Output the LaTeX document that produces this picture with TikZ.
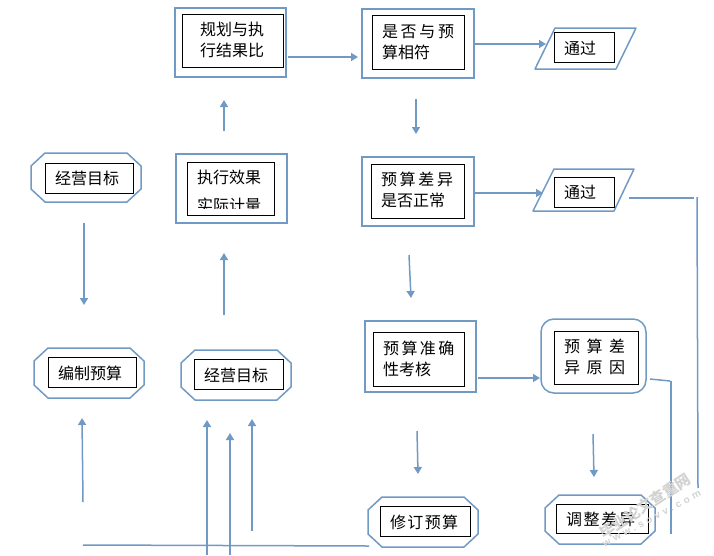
\documentclass[tikz,border=0pt]{standalone}
\usepackage{fontspec}
\setmainfont{Noto Sans CJK SC}
\newfontfamily\latinwm[LetterSpace=35]{Liberation Sans}
\usetikzlibrary{arrows.meta}
\definecolor{flowblue}{HTML}{7099C4}
\tikzset{
  x=1pt,y=-1pt,
  every node/.style={inner sep=0pt,outer sep=0pt},
  outerbox/.style={draw=flowblue,line width=2pt},
  outerthin/.style={draw=flowblue,line width=1.5pt,line join=round},
  innerbox/.style={draw=black,line width=0.75pt},
  lbl/.style={anchor=west,align=left,yshift=-0.3pt,font=\fontsize{16}{21}\selectfont,text=black},
  conn/.style={draw=flowblue,line width=1.5pt},
  arr/.style={conn,-{Triangle[length=7pt,width=8pt]}},
  wm/.style={text=gray!35,rotate=33,font=\bfseries\fontsize{15}{15}\selectfont}
}
\newcommand{\octa}[5]{% name, x1, y1, x2, y2
  \draw[outerthin] (#2+14,#3) -- (#4-14,#3) -- (#4,#3+13) -- (#4,#5-13) -- (#4-14,#5) -- (#2+14,#5) -- (#2,#5-13) -- (#2,#3+13) -- cycle;
  \coordinate (#1) at ({(#2+#4)/2},{(#3+#5)/2});
}
\newcommand{\ibox}[5]{% name, x1, y1, x2, y2
  \node[innerbox,minimum width=#4-#2,minimum height=#5-#3] (#1) at ({(#2+#4)/2},{(#3+#5)/2}) {};
}
\newcommand{\obox}[5]{%
  \node[outerbox,minimum width=#4-#2,minimum height=#5-#3] (#1) at ({(#2+#4)/2},{(#3+#5)/2}) {};
}
\begin{document}
\begin{tikzpicture}
\useasboundingbox (0,0) rectangle (714,555);
% double boxes
\obox{oplan}{175}{8}{286}{77}
\ibox{iplan}{182}{14}{283}{67}
\node[lbl] (tplan) at (200,39.5) {规划与执\\行结果比};
\obox{oexec}{176}{154}{287}{223}
\ibox{iexec}{187}{162}{274}{215}
\node[lbl] (texec) at (197,177) {执行效果};
\begin{scope}
\clip (187,162) rectangle (274,208.5);
\node[lbl] (tmeas) at (197,205) {实际计量};
\end{scope}
\obox{omatch}{362}{9}{474}{78}
\ibox{imatch}{372}{15}{464}{69}
\node[lbl] (tmatch) at (382,41.5) {是\hspace{2.7pt}否\hspace{2.7pt}与\hspace{2.7pt}预\\算相符};
\obox{ovar}{362}{157}{474}{226}
\ibox{ivar}{371}{164}{464}{218}
\node[lbl] (tvar) at (381,190) {预\hspace{2.7pt}算\hspace{2.7pt}差\hspace{2.7pt}异\\是否正常};
\obox{oacc}{365}{321}{476}{392}
\ibox{iacc}{373}{332}{464}{386}
\node[lbl] (tacc) at (383,358.5) {预\hspace{2.5pt}算\hspace{2.5pt}准\hspace{2.5pt}确\\性考核};
% rounded
\node[draw=flowblue,line width=1.5pt,rounded corners=13pt,minimum width=105pt,minimum height=74pt] (orea) at (593.5,356) {};
\ibox{irea}{554}{331}{638}{384}
\node[lbl] (trea) at (564,357) {预\hspace{6.5pt}算\hspace{6.5pt}差\\异\hspace{6.5pt}原\hspace{6.5pt}因};
% octagons
\octa{ogoalA}{31}{153}{141}{202}
\ibox{igoalA}{45}{163}{133}{193}
\node[lbl] (tgoalA) at (55,178) {经营目标};
\octa{obud}{34}{348}{144}{398}
\ibox{ibud}{48}{357}{136}{387}
\node[lbl] (tbud) at (58,373) {编制预算};
\octa{ogoalB}{181}{350}{291}{400}
\ibox{igoalB}{194}{359}{283}{389}
\node[lbl] (tgoalB) at (204,375) {经营目标};
\octa{orev}{368}{497}{478}{547}
\ibox{irev}{380}{506}{470}{536}
\node[lbl] (trev) at (390,522) {修\hspace{1.4pt}订\hspace{1.4pt}预\hspace{1.4pt}算};
\octa{oadj}{545}{495}{655}{544}
\ibox{iadj}{556}{504}{648}{533}
\node[lbl] (tadj) at (566,519) {调\hspace{1.7pt}整\hspace{1.7pt}差\hspace{1.7pt}异};
% parallelograms
\draw[outerthin] (535,69) -- (555,28) -- (636,28) -- (616,69) -- cycle;
\ibox{ipassA}{554}{32}{614}{62}
\node[lbl] (tpassA) at (564,48) {通过};
\draw[outerthin] (533,211) -- (554,169) -- (634,169) -- (614,211) -- cycle;
\ibox{ipassB}{554}{177}{614}{207}
\node[lbl] (tpassB) at (564,192) {通过};
% free connector ends
\foreach \n/\x/\y in {a/288/57,b/358/57,c/224/131,d/224/100,e/224/315,f/224/253,g/84/223,h/84/305,
  i/474/44,j/546/44,k/416/99,l/416/134,m/474/193,n/543/193,o/409/255,p/411/298,q/478/378,r/540/378,
  s/417/431,t/418/474,u/593/434,v/594/477,w/629/198,w2/694/198,w3/697/197,w4/698/488,
  y1/650/379,y2/670/381,y3/671/381,y4/671/534,z1/83/545,z2/369/546,
  up1/207/555,up2/207/420,up3/230/555,up4/230/433,up5/252/531,up6/252/419,up7/83/502,up8/82/418}
  {\coordinate (\n) at (\x,\y);}
\draw[arr] (a) -- (b);
\draw[arr] (c) -- (d);
\draw[arr] (e) -- (f);
\draw[arr] (g) -- (h);
\draw[arr] (i) -- (j);
\draw[arr] (k) -- (l);
\draw[arr] (m) -- (n);
\draw[arr] (o) -- (p);
\draw[arr] (q) -- (r);
\draw[arr] (s) -- (t);
\draw[arr] (u) -- (v);
\draw[conn,line width=2pt] (w) -- (w2);
\draw[conn] (w3) -- (w4);
\draw[conn] (y1) -- (y2);
\draw[conn,line width=2pt] (y3) -- (y4);
\draw[conn] (z1) -- (z2);
\draw[arr] (up1) -- (up2);
\draw[arr] (up3) -- (up4);
\draw[arr] (up5) -- (up6);
\draw[arr] (up7) -- (up8);
% watermark
\node[wm] (wmA) at (645,506) {毕业论文查重网};
\node[wm,rotate=-5,font=\latinwm\bfseries\fontsize{10}{10}\selectfont] (wmB) at (652,519) {www.sovv.com};
\end{tikzpicture}
\end{document}
